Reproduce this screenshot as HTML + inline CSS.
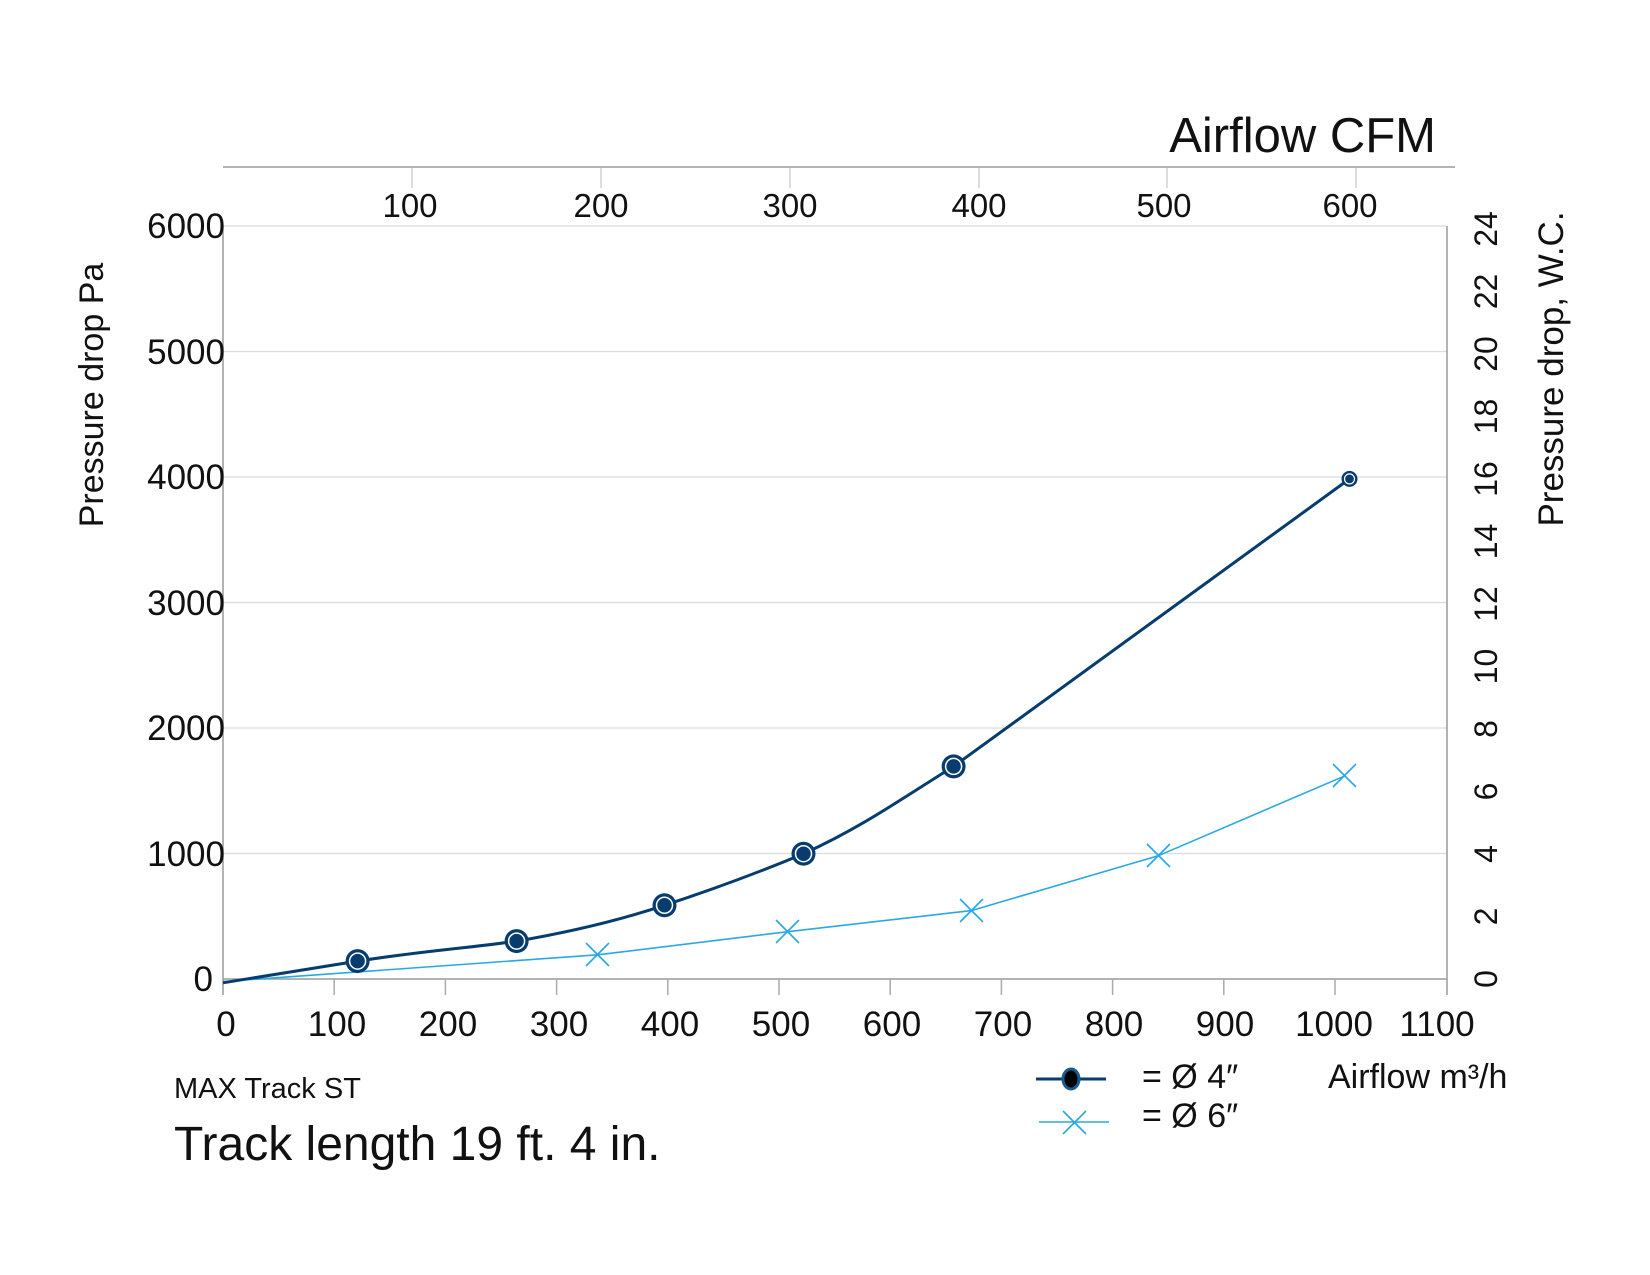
<!DOCTYPE html>
<html><head><meta charset="utf-8"><style>
html,body{margin:0;padding:0;background:#fff;}
svg{display:block;font-family:"Liberation Sans","DejaVu Sans",sans-serif;}
</style></head><body>
<svg width="1650" height="1275" viewBox="0 0 1650 1275" xmlns="http://www.w3.org/2000/svg">
<rect width="1650" height="1275" fill="#fff"/>
<g stroke="#dcdcdc" stroke-width="1.2">
<line x1="223" y1="853.5" x2="1447" y2="853.5"/>
<line x1="223" y1="728" x2="1447" y2="728"/>
<line x1="223" y1="602.5" x2="1447" y2="602.5"/>
<line x1="223" y1="477" x2="1447" y2="477"/>
<line x1="223" y1="351.5" x2="1447" y2="351.5"/>
<line x1="223" y1="226" x2="1447" y2="226"/>
</g>
<g stroke="#9a9a9a" stroke-width="1.5">
<line x1="223" y1="226" x2="223" y2="995"/>
<line x1="1447" y1="226" x2="1447" y2="995"/>
<line x1="223" y1="979" x2="1447" y2="979"/>
<line x1="223" y1="167" x2="1455" y2="167"/>
</g>
<g stroke="#aaa" stroke-width="1.5">
<line x1="334.2" y1="979" x2="334.2" y2="995"/><line x1="445.4" y1="979" x2="445.4" y2="995"/>
<line x1="556.6" y1="979" x2="556.6" y2="995"/><line x1="667.8" y1="979" x2="667.8" y2="995"/>
<line x1="779" y1="979" x2="779" y2="995"/><line x1="890.2" y1="979" x2="890.2" y2="995"/>
<line x1="1001.4" y1="979" x2="1001.4" y2="995"/><line x1="1112.6" y1="979" x2="1112.6" y2="995"/>
<line x1="1223.8" y1="979" x2="1223.8" y2="995"/><line x1="1335" y1="979" x2="1335" y2="995"/>
</g>
<g stroke="#d0d0d0" stroke-width="1.5">
<line x1="412" y1="168" x2="412" y2="188"/><line x1="601" y1="168" x2="601" y2="188"/>
<line x1="790" y1="168" x2="790" y2="188"/><line x1="979" y1="168" x2="979" y2="188"/>
<line x1="1167" y1="168" x2="1167" y2="188"/><line x1="1356" y1="168" x2="1356" y2="188"/>
</g>
<g font-size="35" fill="#111" text-anchor="end">
<text x="213" y="991">0</text><text x="225" y="866">1000</text><text x="225" y="740">2000</text>
<text x="225" y="615">3000</text><text x="225" y="489">4000</text><text x="225" y="364">5000</text><text x="225" y="238">6000</text>
</g>
<g font-size="35" fill="#111" text-anchor="middle">
<text x="226" y="1036">0</text><text x="337" y="1036">100</text><text x="448" y="1036">200</text>
<text x="559" y="1036">300</text><text x="670" y="1036">400</text><text x="781" y="1036">500</text>
<text x="892" y="1036">600</text><text x="1003" y="1036">700</text><text x="1114" y="1036">800</text>
<text x="1225" y="1036">900</text><text x="1334" y="1036">1000</text><text x="1437" y="1036">1100</text>
</g>
<g font-size="33" fill="#111" text-anchor="middle">
<text x="410" y="217">100</text><text x="601" y="217">200</text><text x="790" y="217">300</text>
<text x="979" y="217">400</text><text x="1164" y="217">500</text><text x="1350" y="217">600</text>
</g>
<text x="1436" y="152" font-size="49" fill="#111" text-anchor="end">Airflow CFM</text>
<g font-size="32" fill="#111" text-anchor="middle">
<text transform="translate(1497,979) rotate(-90)">0</text>
<text transform="translate(1497,916.5) rotate(-90)">2</text>
<text transform="translate(1497,854) rotate(-90)">4</text>
<text transform="translate(1497,791.5) rotate(-90)">6</text>
<text transform="translate(1497,729) rotate(-90)">8</text>
<text transform="translate(1497,666.5) rotate(-90)">10</text>
<text transform="translate(1497,604) rotate(-90)">12</text>
<text transform="translate(1497,541.5) rotate(-90)">14</text>
<text transform="translate(1497,479) rotate(-90)">16</text>
<text transform="translate(1497,416.5) rotate(-90)">18</text>
<text transform="translate(1497,354) rotate(-90)">20</text>
<text transform="translate(1497,291.5) rotate(-90)">22</text>
<text transform="translate(1497,229) rotate(-90)">24</text>
</g>
<text transform="translate(103,395) rotate(-90)" font-size="34" fill="#111" text-anchor="middle">Pressure drop Pa</text>
<text transform="translate(1563,369) rotate(-90)" font-size="35" fill="#111" text-anchor="middle">Pressure drop, W.C.</text>
<polyline fill="none" stroke="#29a8e6" stroke-width="1.6" points="223,981.5 597.7,954.8 787.9,931.7 971.4,910.6 1158.2,855.8 1345,775.8"/>
<g stroke="#29a8e6" stroke-width="1.6">
<path d="M586,943 l23,23 M609,943 l-23,23"/>
<path d="M776,920 l23,23 M799,920 l-23,23"/>
<path d="M960,899 l23,23 M983,899 l-23,23"/>
<path d="M1147,844 l23,23 M1170,844 l-23,23"/>
<path d="M1333,764 l23,23 M1356,764 l-23,23"/>
</g>
<path fill="none" stroke="#063d6e" stroke-width="3" d="M223,982.8 L357.6,961.1 C430,950 470,948 516.6,941.1 C570,932 620,920 664.5,905.3 C720,887 760,872 803.5,853.7 C860,828 900,800 953.6,766.4 L1349.5,478.9"/>
<g fill="#063d6e">
<g><circle cx="357.6" cy="961.1" r="12"/><circle cx="357.6" cy="961.1" r="8" fill="none" stroke="#fff" stroke-width="1.5"/></g>
<g><circle cx="516.6" cy="941.1" r="12"/><circle cx="516.6" cy="941.1" r="8" fill="none" stroke="#fff" stroke-width="1.5"/></g>
<g><circle cx="664.5" cy="905.3" r="12"/><circle cx="664.5" cy="905.3" r="8" fill="none" stroke="#fff" stroke-width="1.5"/></g>
<g><circle cx="803.5" cy="853.7" r="12"/><circle cx="803.5" cy="853.7" r="8" fill="none" stroke="#fff" stroke-width="1.5"/></g>
<g><circle cx="953.6" cy="766.4" r="12"/><circle cx="953.6" cy="766.4" r="8" fill="none" stroke="#fff" stroke-width="1.5"/></g>
<g><circle cx="1349.5" cy="478.9" r="8"/><circle cx="1349.5" cy="478.9" r="5" fill="none" stroke="#fff" stroke-width="1.2"/></g>
</g>
<line x1="1036" y1="1079" x2="1106" y2="1079" stroke="#063d6e" stroke-width="3"/>
<ellipse cx="1071" cy="1079" rx="8" ry="10" fill="#000" stroke="#1a5a8e" stroke-width="3"/>
<line x1="1039" y1="1122" x2="1109" y2="1122" stroke="#29a8e6" stroke-width="1.6"/>
<path d="M1063,1111 l23,23 M1086,1111 l-23,23" stroke="#29a8e6" stroke-width="1.6"/>
<g font-size="34" fill="#111">
<text x="1142" y="1088">= Ø 4″</text>
<text x="1142" y="1127">= Ø 6″</text>
<text x="1328" y="1088">Airflow m³/h</text>
<text x="174" y="1098" font-size="29">MAX Track ST</text>
<text x="174" y="1160" font-size="48">Track length 19 ft. 4 in.</text>
</g>
</svg>
</body></html>
